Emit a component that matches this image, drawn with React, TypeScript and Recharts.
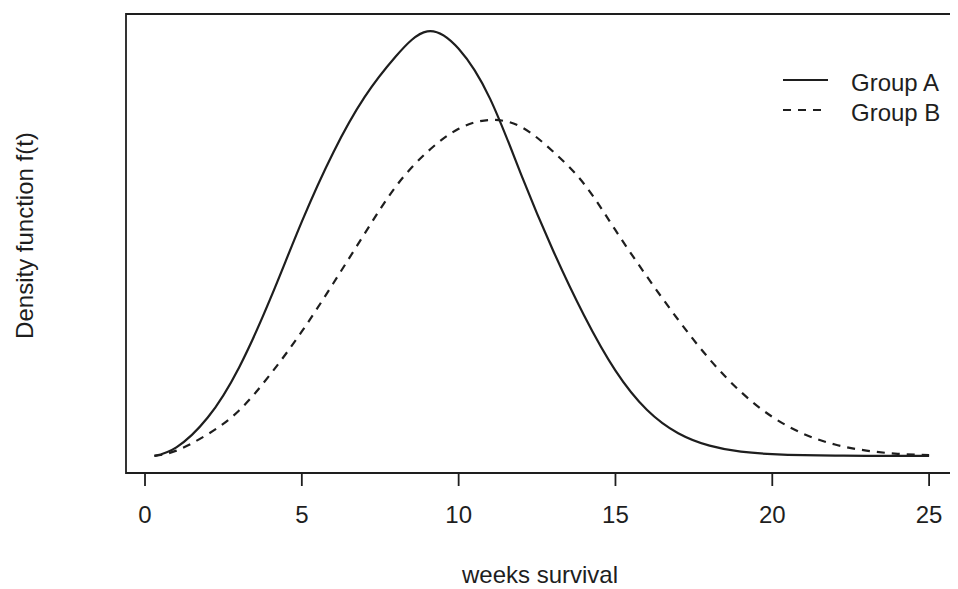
import React from "react";
import { LineChart, Line, XAxis, YAxis, ReferenceArea } from "recharts";

const weeks = [0.3, 1, 2, 3, 4, 5, 6, 7, 8, 9, 10, 11, 12, 13, 14, 15, 16, 17, 18, 19, 20, 21, 22, 23, 24, 25];
const groupA = [0.0, 0.0024, 0.0108, 0.0249, 0.0443, 0.0659, 0.0853, 0.1009, 0.1124, 0.1194, 0.1145, 0.1005, 0.079, 0.058, 0.0395, 0.024, 0.013, 0.0064, 0.0029, 0.0012, 0.0005, 0.0002, 0.0001, 0.0, 0.0, 0.0];
const groupB = [0.0, 0.0015, 0.0061, 0.0128, 0.023, 0.035, 0.0485, 0.0625, 0.0758, 0.0855, 0.092, 0.0945, 0.0925, 0.0857, 0.0765, 0.0635, 0.0505, 0.0383, 0.0272, 0.018, 0.011, 0.0062, 0.0032, 0.0015, 0.0006, 0.0002];
const xTicks = [0, 5, 10, 15, 20, 25];
const seriesNames = ["Group A", "Group B"];

const data = weeks.map((w, i) => ({ week: w, a: groupA[i], b: groupB[i] }));

const FONT = '"Liberation Sans", Arial, Helvetica, sans-serif';
const INK = "#1e1e1e";
const X_DOMAIN: [number, number] = [-0.606, 25.985];
const Y_DOMAIN: [number, number] = [-0.0048, 0.1243];

const XLabel = (props: any) => {
  const vb = props.viewBox || {};
  return (
    <text x={vb.x + vb.width / 2 - 3} y={575} textAnchor="middle" fontSize={24} fontFamily={FONT} fill={INK}>
      weeks survival
    </text>
  );
};

const YLabel = (props: any) => {
  const vb = props.viewBox || {};
  const cx = 16;
  const cy = vb.y + vb.height / 2 - 8;
  return (
    <text x={cx} y={cy} transform={`rotate(-90 ${cx} ${cy})`} textAnchor="middle" dominantBaseline="central" fontSize={24} fontFamily={FONT} fill={INK}>
      Density function f(t)
    </text>
  );
};

export default function App() {
  return (
    <div style={{ width: 950, height: 581, overflow: "hidden", position: "relative", background: "#fff" }}>
      <LineChart width={970} height={581} data={data} margin={{ top: 6, right: 18, bottom: 0, left: 0 }}>
        <XAxis
          dataKey="week"
          type="number"
          domain={X_DOMAIN}
          allowDataOverflow
          ticks={xTicks}
          axisLine={false}
          tickLine={{ stroke: INK, strokeWidth: 1.8 }}
          tickSize={13}
          tickMargin={20}
          height={116}
          tick={{ fill: INK, fontSize: 24, fontFamily: FONT }}
          label={<XLabel />}
        />
        <YAxis
          type="number"
          domain={Y_DOMAIN}
          allowDataOverflow
          width={118}
          tick={false}
          tickLine={false}
          axisLine={false}
          label={<YLabel />}
        />
        <ReferenceArea
          x1={X_DOMAIN[0]}
          x2={X_DOMAIN[1]}
          y1={Y_DOMAIN[0]}
          y2={Y_DOMAIN[1]}
          fill="none"
          fillOpacity={0}
          stroke={INK}
          strokeWidth={1.8}
          ifOverflow="visible"
        />
        <Line type="natural" dataKey="a" name={seriesNames[0]} stroke={INK} strokeWidth={2.2} dot={false} isAnimationActive={false} />
        <Line type="natural" dataKey="b" name={seriesNames[1]} stroke={INK} strokeWidth={2.2} strokeDasharray="8 7" dot={false} isAnimationActive={false} />
      </LineChart>
      <svg width={190} height={70} style={{ position: "absolute", left: 770, top: 55, display: "block" }}>
        <line x1={5} x2={50} y1={17} y2={17} stroke={INK} strokeWidth={2.2} />
        <line x1={5} x2={50} y1={47} y2={47} stroke={INK} strokeWidth={2.2} strokeDasharray="8 7" />
        <text x={73} y={27.5} fontSize={24} fontFamily={FONT} fill={INK}>{seriesNames[0]}</text>
        <text x={73} y={57.5} fontSize={24} fontFamily={FONT} fill={INK}>{seriesNames[1]}</text>
      </svg>
    </div>
  );
}
